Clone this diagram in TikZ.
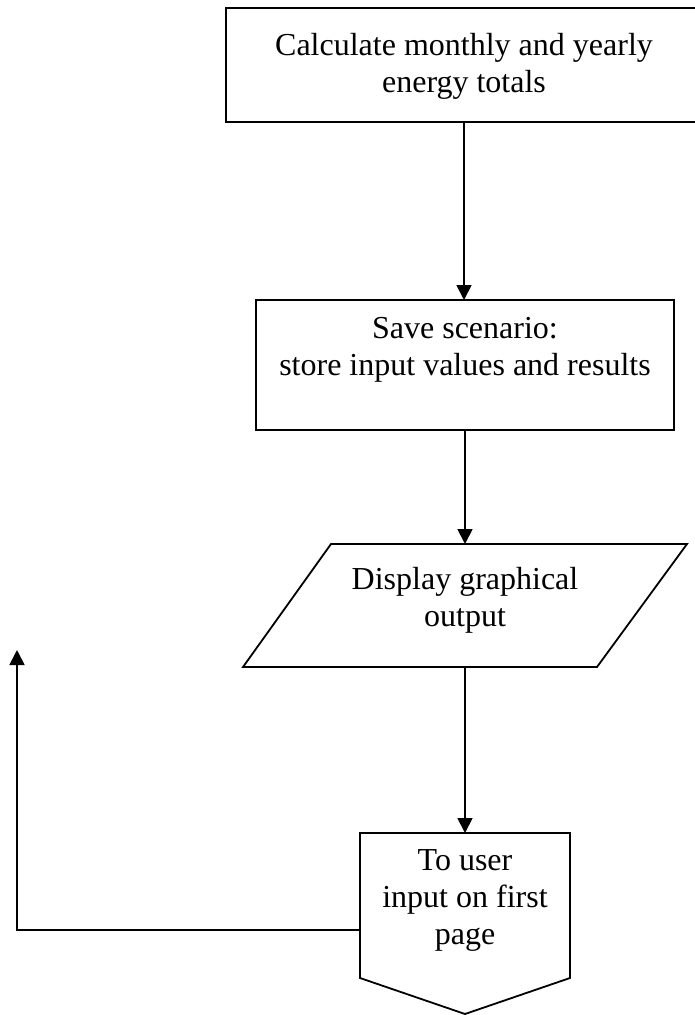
\documentclass[tikz,border=0pt]{standalone}
\usepackage{fontspec}
\setmainfont{Liberation Serif}
\usetikzlibrary{arrows.meta,positioning}

\begin{document}
\begin{tikzpicture}[x=1pt,y=-1pt,line width=1.8pt,
  flowtext/.style={align=center,font=\fontsize{32}{37}\selectfont},
  flowarrow/.style={-{Triangle[length=15pt,width=15pt]}}]
\useasboundingbox (0,0) rectangle (694,1015);
% boxes
\draw (226,8) rectangle (702,122);
\node[flowtext] (calc) at (464,66) {Calculate monthly and yearly\\energy totals};
\draw (256,300) rectangle (674,430);
\node[flowtext] (save) at (465,350) {Save scenario:\\store input values and results};
\draw (331,544)--(687,544)--(597,667)--(243,667)--cycle;
\node[flowtext] (disp) at (465,600) {Display graphical\\output};
\draw (360,833)--(570,833)--(570,978)--(465,1014)--(360,978)--cycle;
\node[flowtext] (back) at (465,900) {To user\\input on first\\page};
% connectors
\coordinate (c1) at (464,122); \coordinate (c2) at (464,300);
\coordinate (s1) at (465,430); \coordinate (s2) at (465,544);
\coordinate (d1) at (465,667); \coordinate (d2) at (465,833);
\coordinate (b1) at (360,930); \coordinate (b2) at (17,930);
\coordinate (b3) at (17,650);
\draw[flowarrow] (c1)--(c2);
\draw[flowarrow] (s1)--(s2);
\draw[flowarrow] (d1)--(d2);
\draw[flowarrow] (b1)--(b2)--(b3);
\end{tikzpicture}
\end{document}
